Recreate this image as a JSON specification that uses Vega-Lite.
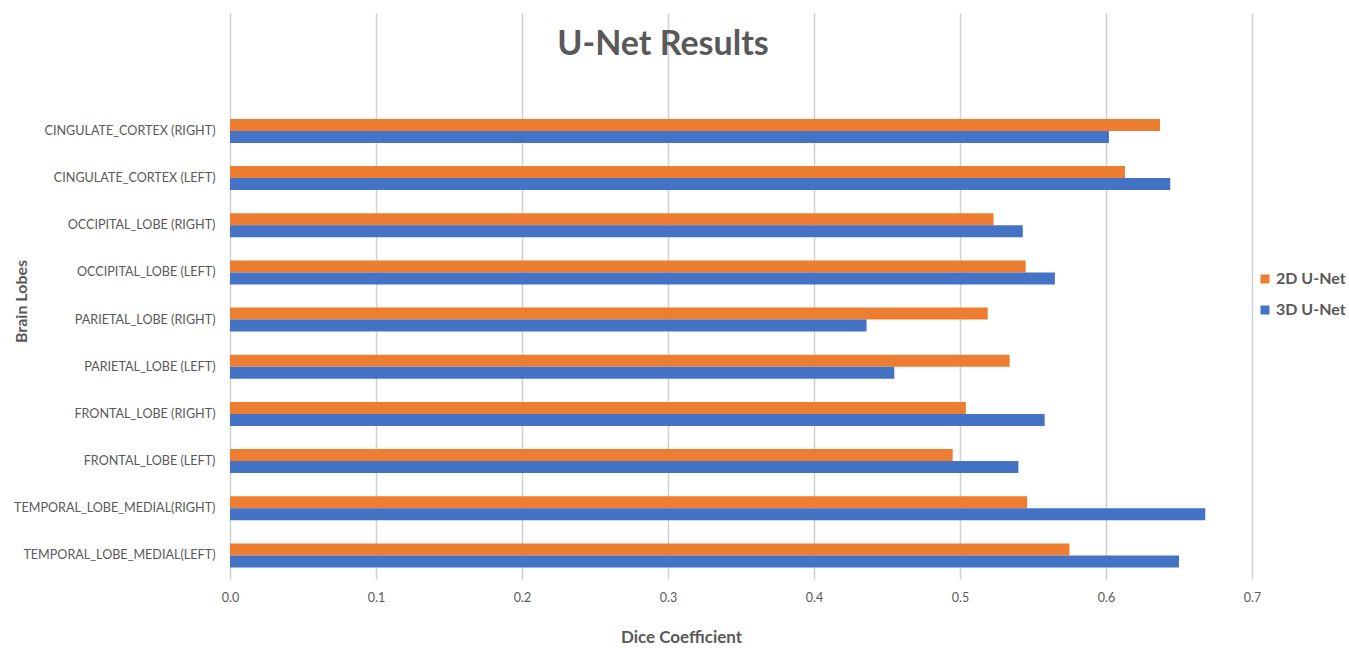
{
  "$schema": "https://vega.github.io/schema/vega-lite/v6.json",
  "autosize": {"type": "none"},
  "width": 1022,
  "height": 566,
  "padding": {"left": 230, "top": 13, "right": 97, "bottom": 69},
  "background": "white",
  "title": {
    "text": "U-Net Results",
    "anchor": "middle",
    "frame": "group",
    "font": "Lato",
    "fontSize": 34,
    "fontWeight": "bold",
    "color": "#595959",
    "baseline": "top",
    "offset": 0,
    "dx": -78,
    "dy": 49
  },
  "config": {
    "view": {"stroke": null},
    "font": "Lato"
  },
  "data": {
    "values": [
      {"lobe": "CINGULATE_CORTEX (RIGHT)", "model": "2D U-Net", "dice": 0.637},
      {"lobe": "CINGULATE_CORTEX (RIGHT)", "model": "3D U-Net", "dice": 0.602},
      {"lobe": "CINGULATE_CORTEX (LEFT)", "model": "2D U-Net", "dice": 0.613},
      {"lobe": "CINGULATE_CORTEX (LEFT)", "model": "3D U-Net", "dice": 0.644},
      {"lobe": "OCCIPITAL_LOBE (RIGHT)", "model": "2D U-Net", "dice": 0.523},
      {"lobe": "OCCIPITAL_LOBE (RIGHT)", "model": "3D U-Net", "dice": 0.543},
      {"lobe": "OCCIPITAL_LOBE (LEFT)", "model": "2D U-Net", "dice": 0.545},
      {"lobe": "OCCIPITAL_LOBE (LEFT)", "model": "3D U-Net", "dice": 0.565},
      {"lobe": "PARIETAL_LOBE (RIGHT)", "model": "2D U-Net", "dice": 0.519},
      {"lobe": "PARIETAL_LOBE (RIGHT)", "model": "3D U-Net", "dice": 0.436},
      {"lobe": "PARIETAL_LOBE (LEFT)", "model": "2D U-Net", "dice": 0.534},
      {"lobe": "PARIETAL_LOBE (LEFT)", "model": "3D U-Net", "dice": 0.455},
      {"lobe": "FRONTAL_LOBE (RIGHT)", "model": "2D U-Net", "dice": 0.504},
      {"lobe": "FRONTAL_LOBE (RIGHT)", "model": "3D U-Net", "dice": 0.558},
      {"lobe": "FRONTAL_LOBE (LEFT)", "model": "2D U-Net", "dice": 0.495},
      {"lobe": "FRONTAL_LOBE (LEFT)", "model": "3D U-Net", "dice": 0.540},
      {"lobe": "TEMPORAL_LOBE_MEDIAL(RIGHT)", "model": "2D U-Net", "dice": 0.546},
      {"lobe": "TEMPORAL_LOBE_MEDIAL(RIGHT)", "model": "3D U-Net", "dice": 0.668},
      {"lobe": "TEMPORAL_LOBE_MEDIAL(LEFT)", "model": "2D U-Net", "dice": 0.575},
      {"lobe": "TEMPORAL_LOBE_MEDIAL(LEFT)", "model": "3D U-Net", "dice": 0.650}
    ]
  },
  "mark": {"type": "bar"},
  "encoding": {
    "y": {
      "field": "lobe",
      "type": "nominal",
      "sort": null,
      "scale": {"paddingInner": 0, "paddingOuter": 1, "align": 1},
      "axis": {
        "title": "Brain Lobes",
        "titleFont": "Lato",
        "titleFontSize": 16,
        "titleFontWeight": "bold",
        "titleColor": "#595959",
        "titleAngle": -90,
        "titleX": -209,
        "titleY": 288,
        "titleAlign": "center",
        "titleBaseline": "middle",
        "domain": false,
        "ticks": false,
        "grid": false,
        "labelFont": "Lato",
        "labelFontSize": 12.6,
        "labelColor": "#595959",
        "labelPadding": 15,
        "labelLimit": 300
      }
    },
    "yOffset": {
      "field": "model",
      "type": "nominal",
      "scale": {"domain": ["2D U-Net", "3D U-Net"], "paddingInner": 0, "paddingOuter": 0.965}
    },
    "x": {
      "field": "dice",
      "type": "quantitative",
      "scale": {"domain": [0, 0.7], "nice": false},
      "axis": {
        "title": "Dice Coefficient",
        "titleFont": "Lato",
        "titleFontSize": 17,
        "titleFontWeight": "bold",
        "titleColor": "#595959",
        "titleX": 451,
        "titleY": 58,
        "titleAlign": "center",
        "titleBaseline": "middle",
        "values": [0, 0.1, 0.2, 0.3, 0.4, 0.5, 0.6, 0.7],
        "format": ".1f",
        "domain": false,
        "ticks": false,
        "grid": true,
        "gridColor": "#d0d0d0",
        "gridWidth": 1.5,
        "labelFlush": false,
        "labelFont": "Lato",
        "labelFontSize": 12.5,
        "labelColor": "#595959",
        "labelPadding": 12
      }
    },
    "color": {
      "field": "model",
      "type": "nominal",
      "scale": {"domain": ["2D U-Net", "3D U-Net"], "range": ["#ED7D31", "#4472C4"]},
      "legend": {
        "title": null,
        "orient": "none",
        "legendX": 1027,
        "legendY": 258,
        "symbolType": "square",
        "symbolSize": 81,
        "symbolStrokeWidth": 0,
        "labelFont": "Lato",
        "labelFontSize": 16,
        "labelFontWeight": "bold",
        "labelColor": "#595959",
        "labelOffset": 3,
        "labelLimit": 120,
        "rowPadding": 15
      }
    }
  }
}
